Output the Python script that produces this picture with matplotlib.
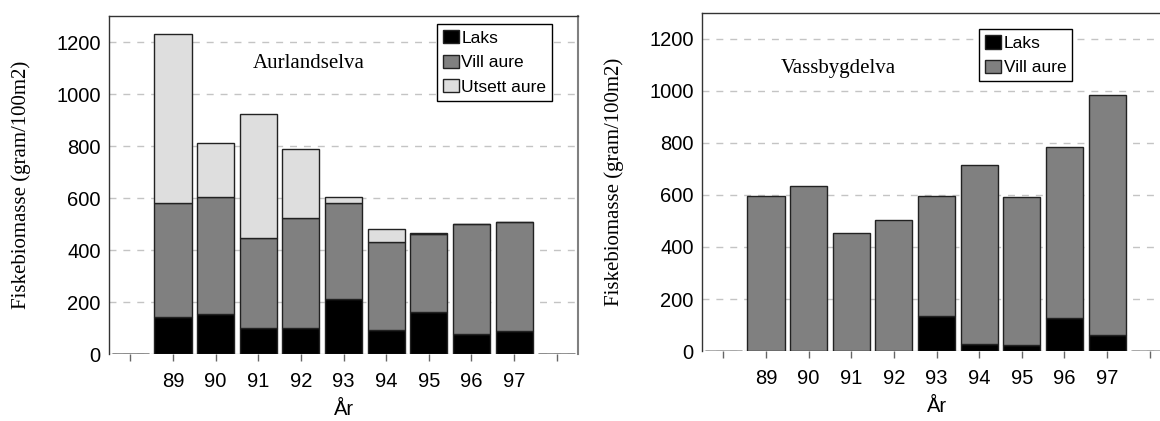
import matplotlib
matplotlib.use("Agg")
import matplotlib.pyplot as plt
import numpy as np

# Years (empty slots at both ends, as in the original layout)
years = ["", "89", "90", "91", "92", "93", "94", "95", "96", "97", ""]

# Aurlandselva, gram/100m2
aur_laks = [0, 142, 154, 100, 102, 210, 91, 161, 77, 87, 0]
aur_vill = [0, 437, 449, 346, 422, 369, 339, 300, 423, 420, 0]
aur_utsett = [0, 651, 208, 477, 265, 26, 52, 3, 2, 1, 0]

# Vassbygdelva, gram/100m2
vas_laks = [0, 0, 0, 0, 0, 133, 28, 23, 127, 61, 0]
vas_vill = [0, 594, 634, 453, 504, 464, 686, 568, 657, 921, 0]

C_LAKS = "#000000"
C_VILL = "#808080"
C_UTS = "#dedede"
EDGE = "#222222"
SANS = "Liberation Sans"
SERIF = "Liberation Serif"

fig = plt.figure(figsize=(11.6, 4.21), dpi=100)
ax1 = fig.add_axes((0.094, 0.159, 0.4043, 0.803))
ax2 = fig.add_axes((0.6052, 0.166, 0.4043, 0.804))


def style_axes(ax):
    ax.set_xlim(-0.5, 10.5)
    ax.set_ylim(0, 1300)
    ax.set_yticks(np.arange(0, 1201, 200))
    ax.yaxis.grid(True, linestyle=(0, (5, 5)), color="#c4c4c4", linewidth=1)
    ax.set_axisbelow(True)
    ax.spines["bottom"].set_visible(False)
    for s in ("left", "top"):
        ax.spines[s].set_color("#333333")
        ax.spines[s].set_linewidth(1.0)
    ax.spines["right"].set_color("#808080")
    ax.spines["right"].set_linewidth(1.5)
    ax.tick_params(axis="y", length=0, pad=6, labelsize=14.5)
    ax.tick_params(axis="x", length=5, width=1, color="#666666", pad=8, labelsize=14.5)
    ax.set_xticks(np.arange(len(years)))
    ax.set_xticklabels(years)
    for lab in ax.get_xticklabels() + ax.get_yticklabels():
        lab.set_fontfamily(SANS)
    ax.set_ylabel("Fiskebiomasse (gram/100m2)", fontsize=15, fontfamily=SERIF)
    ax.yaxis.set_label_coords(-0.166, 0.5)
    ax.set_xlabel("År", fontsize=14.5, fontfamily=SANS)
    ax.xaxis.set_label_coords(0.5, -0.135)


x = np.arange(len(years))
w = 0.87
bar_kw = dict(width=w, edgecolor=EDGE, linewidth=1.0, zorder=3)

# Aurlandselva
l1 = ax1.bar(x, aur_laks, color=C_LAKS, label="Laks", **bar_kw)
v1 = ax1.bar(x, aur_vill, bottom=aur_laks, color=C_VILL, label="Vill aure", **bar_kw)
u1 = ax1.bar(x, aur_utsett, bottom=np.add(aur_laks, aur_vill), color=C_UTS,
             label="Utsett aure", **bar_kw)
style_axes(ax1)
ax1.text(4.19, 1119, "Aurlandselva", fontsize=15, fontfamily=SERIF, ha="center", va="center")

# Vassbygdelva
l2 = ax2.bar(x, vas_laks, color=C_LAKS, label="Laks", **bar_kw)
v2 = ax2.bar(x, vas_vill, bottom=vas_laks, color=C_VILL, label="Vill aure", **bar_kw)
style_axes(ax2)
ax2.text(2.69, 1085, "Vassbygdelva", fontsize=15, fontfamily=SERIF, ha="center", va="center")

leg_kw = dict(loc="upper left", fancybox=False, shadow=False, framealpha=1,
              edgecolor="black", handlelength=0.9, handleheight=0.8,
              handletextpad=0.15, borderpad=0.35, labelspacing=0.5,
              borderaxespad=0, prop={"family": SANS, "size": 12.5})
lg1 = ax1.legend(handles=[l1, v1, u1], bbox_to_anchor=(0.699, 0.976), **leg_kw)
lg2 = ax2.legend(handles=[l2, v2], bbox_to_anchor=(0.591, 0.951), **leg_kw)
for lg in (lg1, lg2):
    lg.get_frame().set_linewidth(1.0)
    lg.set_zorder(5)

fig.savefig("out.png", dpi=100)
